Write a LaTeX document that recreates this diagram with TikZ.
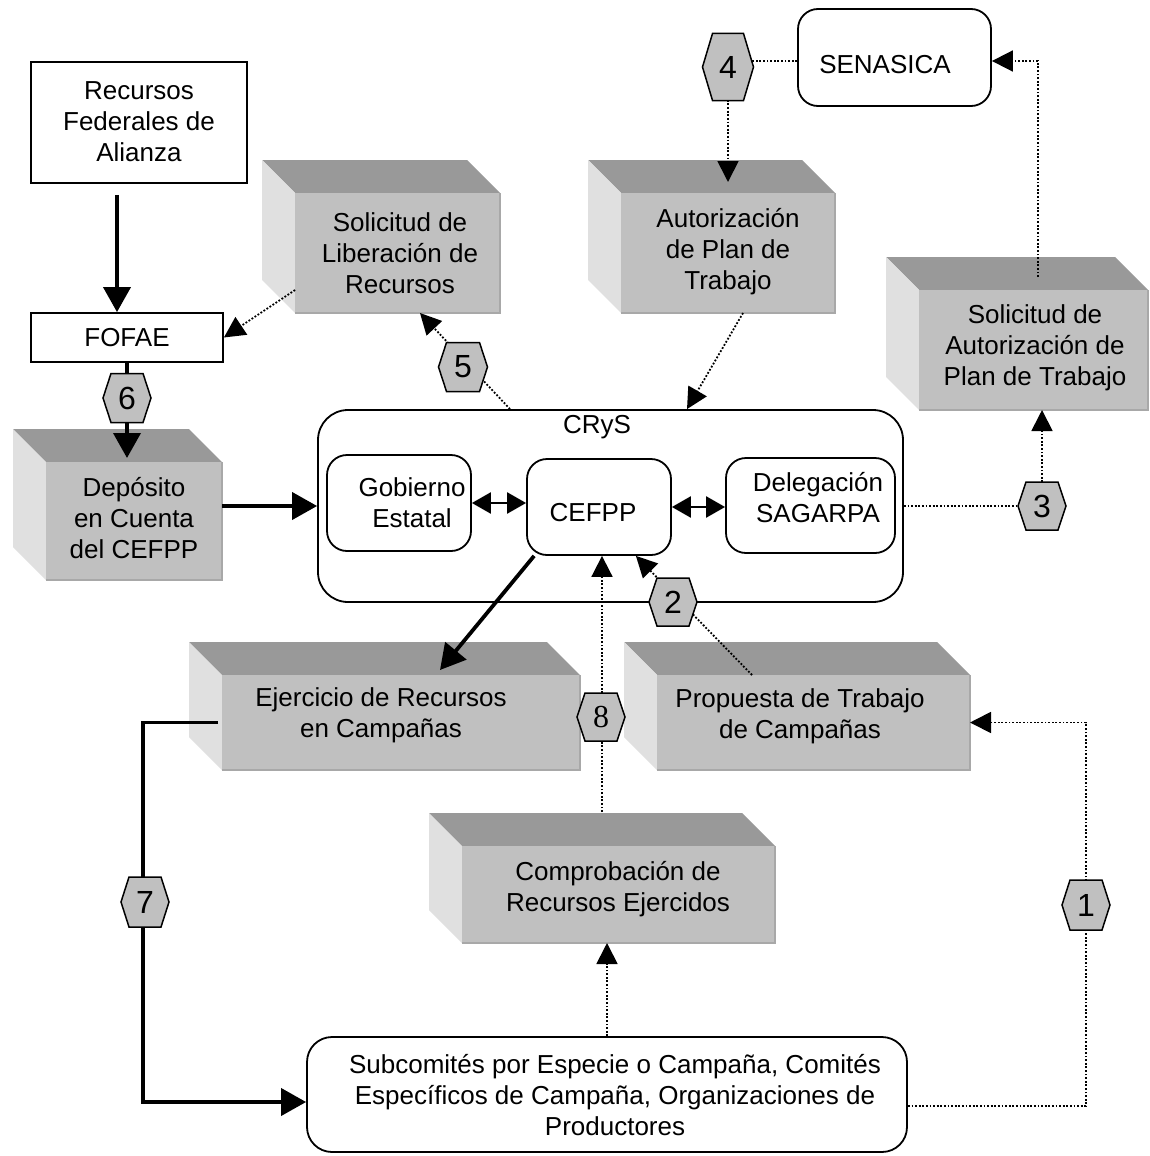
\documentclass[tikz,border=0pt]{standalone}
\usepackage{fontspec}
\setmainfont{Liberation Sans}
\newfontfamily\serifdigit{Liberation Serif}
\usetikzlibrary{arrows.meta,calc}
\definecolor{topface}{RGB}{153,153,153}
\definecolor{sideface}{RGB}{224,224,224}
\definecolor{frontface}{RGB}{192,192,192}
\definecolor{edgegray}{RGB}{168,168,168}
\definecolor{hexfill}{RGB}{192,192,192}

\tikzset{
  txt/.style={align=center, font=\fontsize{26}{31}\selectfont, inner sep=0pt},
  plainbox/.style={draw, line width=1.8pt, fill=white, inner sep=0pt},
  roundbox/.style={draw, line width=1.8pt, rounded corners=20pt, fill=white, inner sep=0pt},
  face/.style={fill=frontface, inner sep=0pt, outer sep=0pt},
  thickarrow/.style={line width=3.8pt, -{Triangle[length=25pt,width=27pt]}},
  dotarrow/.style={line width=1.8pt, dash pattern=on 1.8pt off 1.8pt, -{Triangle[length=21pt,width=21pt]}},
  dblarrow/.style={line width=2.4pt, {Triangle[length=19pt,width=21pt]}-{Triangle[length=19pt,width=21pt]}},
  hexline/.style={fill=hexfill, draw, line width=1.5pt, line join=miter},
  hexlbl/.style={font=\fontsize{32}{32}\selectfont, inner sep=0pt},
}

% 3D box: name, front x1, y1, x2, y2
\newcommand\boxthree[5]{%
  \fill[topface] (#2-33,#3-33) -- (#4-33,#3-33) -- (#4,#3) -- (#2,#3) -- cycle;
  \fill[sideface] (#2-33,#3-33) -- (#2,#3) -- (#2,#5) -- (#2-33,#5-33) -- cycle;
  \node[face, minimum width={#4-#2}, minimum height={#5-#3}] (#1) at ({(#2+#4)/2},{(#3+#5)/2}) {};
  \draw[edgegray, line width=1.5pt] (#1.south west) -- (#1.south east) -- (#1.north east);
}
% hexagon: name, x, y, w, h, chamfer, text
\newcommand\hexa[7]{%
  \filldraw[hexline] (#2-#4/2,#3) -- (#2-#4/2+#6,#3-#5/2) -- (#2+#4/2-#6,#3-#5/2) -- (#2+#4/2,#3) -- (#2+#4/2-#6,#3+#5/2) -- (#2-#4/2+#6,#3+#5/2) -- cycle;
  \node[hexlbl] (#1) at (#2,#3) {#7};
}

\begin{document}
\begin{tikzpicture}[x=1pt, y=-1pt]
\useasboundingbox (0,0) rectangle (1150,1156);
\fill[white] (0,0) rectangle (1150,1156);

% plain boxes
\node[plainbox, minimum width=216, minimum height=121] (rec) at (139,122.5) {};
\node[plainbox, minimum width=192, minimum height=49] (fofae) at (127,337.5) {};
\node[roundbox, minimum width=193, minimum height=97] (sen) at (894.5,57.5) {};
\node[roundbox, rounded corners=30pt, minimum width=585, minimum height=192] (crys) at (610.5,506) {};
\node[roundbox, minimum width=144, minimum height=96] (gob) at (399,503) {};
\node[roundbox, minimum width=144, minimum height=96] (cefpp) at (599,507) {};
\node[roundbox, minimum width=169, minimum height=95] (del) at (810.5,505.5) {};
\node[roundbox, rounded corners=25pt, minimum width=600, minimum height=115] (sub) at (607,1094.5) {};

% 3D boxes
\boxthree{sol}{295}{193}{500}{313}
\boxthree{aut}{621}{193}{835}{313}
\boxthree{saut}{919}{290}{1148}{410}
\boxthree{dep}{46}{462}{222}{580}
\boxthree{eje}{222}{675}{580}{770}
\boxthree{prop}{657}{675}{970}{770}
\boxthree{comp}{462}{846}{775}{943}

% texts
\node[txt] (recT) at (139,122) {Recursos\\Federales de\\Alianza};
\node[txt] (fofaeT) at (127,338) {FOFAE};
\node[txt] (senT) at (885,65) {SENASICA};
\node[txt] (crysT) at (597,427) {CRyS};
\node[txt] (gobT) at (412,503) {Gobierno\\Estatal};
\node[txt] (cefppT) at (593,513) {CEFPP};
\node[txt] (delT) at (818,498) {Delegación\\SAGARPA};
\node[txt] (subT) at (615,1095) {Subcomités por Especie o Campaña, Comités\\Específicos de Campaña, Organizaciones de\\Productores};
\node[txt] (solT) at (400,253) {Solicitud de\\Liberación de\\Recursos};
\node[txt] (autT) at (728,252) {Autorización\\de Plan de\\Trabajo};
\node[txt] (sautT) at (1035,348) {Solicitud de\\Autorización de\\Plan de Trabajo};
\node[txt] (depT) at (134,518) {Depósito\\en Cuenta\\del CEFPP};
\node[txt] (ejeT) at (381,715) {Ejercicio de Recursos\\en Campañas};
\node[txt] (propT) at (800,716) {Propuesta de Trabajo\\de Campañas};
\node[txt] (compT) at (618,889) {Comprobación de\\Recursos Ejercidos};

% connectors
\draw[thickarrow, shorten <=11pt] ([xshift=-22pt]rec.south) -- ([xshift=-10pt]fofae.north);
\draw[thickarrow] (fofae.south) -- ([yshift=4pt]fofae.south |- dep.north);
\draw[thickarrow] (dep.east |- crys.west) -- (crys.west);
\draw[dblarrow] (gob.east) -- (gob.east -| cefpp.west);
\draw[dblarrow] (cefpp.east) -- (cefpp.east -| del.west);
\draw[thickarrow] ([xshift=8pt]cefpp.south west) -- ($(eje.north west)+(218,-5)$);
\draw[thickarrow] ([xshift=-4pt]eje.west) -| ($(sub.west)+(-163,7.5)$) -- ($(sub.west)+(0,7.5)$);
\draw[dotarrow] ([yshift=-11.5pt]sub.east) -| ($(prop.east)+(116,0)$) -- (prop.east);
\draw[dotarrow] ($(prop.north west)+(95,0)$) -- ($(cefpp.south east)+(-36,0)$);
\draw[dotarrow] ($(comp.north west)+(140,-34)$) -- ($(cefpp.south)+(3,0)$);
\draw[dotarrow] (sub.north) -- (sub.north |- comp.south);
\draw[dotarrow] ($(saut.north west)+(119,-13)$) |- ([yshift=-3.5pt]sen.east);
\draw[dotarrow] (crys.east) -| ($(saut.south)+(8.5,0)$);
\draw[dotarrow] ([yshift=-3.5pt]sen.west) -| ($(aut.north)+(0,-11)$);
\draw[dotarrow] ($(aut.south)+(15,0)$) -- ($(crys.north)+(76.5,0)$);
\draw[dotarrow] ($(crys.north)+(-100.5,0)$) -- ($(sol.south)+(22.5,0)$);
\draw[dotarrow] ($(sol.west)+(0,37)$) -- (fofae.east);

% hexagon labels
\hexa{h6}{127}{398}{48}{49}{8}{6}
\hexa{h5}{463}{367}{49}{49}{8}{5}
\hexa{h4}{728}{67}{51}{67}{10}{4}
\hexa{h3}{1042}{506}{48}{48}{8}{3}
\hexa{h2}{673}{602}{48}{48}{8}{2}
\hexa{h8}{601}{717}{48}{48}{8}{\serifdigit 8}
\hexa{h7}{145}{902}{48}{50}{8}{7}
\hexa{h1}{1086}{905}{48}{50}{8}{1}
\end{tikzpicture}
\end{document}
